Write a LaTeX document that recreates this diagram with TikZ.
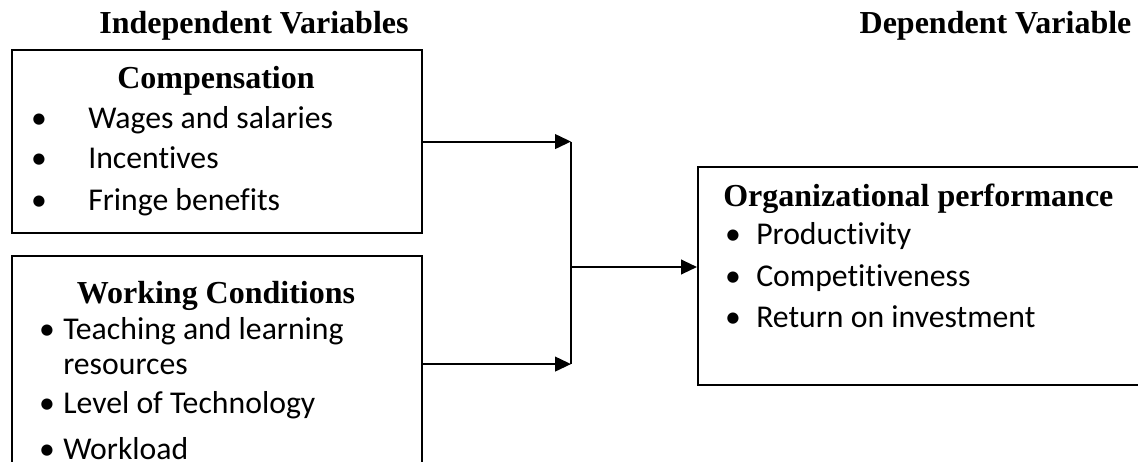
\documentclass[tikz,border=0pt]{standalone}
\usepackage{fontspec}
\setmainfont{Liberation Serif}
\newfontfamily\bodyfont{Carlito}[Ligatures=NoCommon]
\usetikzlibrary{arrows.meta}

\begin{document}
\begin{tikzpicture}[x=0.75pt, y=0.75pt,
    box/.style={draw, line width=1.6pt, inner sep=0pt, anchor=north west},
    head/.style={font=\fontsize{24}{28}\selectfont\bfseries, inner sep=0pt, anchor=base},
    item/.style={font=\bodyfont\fontsize{23.8}{28}\selectfont, inner sep=0pt, anchor=base west},
    dot/.style={font=\bodyfont\fontsize{23.8}{28}\selectfont, inner sep=0pt, anchor=base},
    link/.style={line width=1.6pt, -{Triangle[length=12pt, width=11pt]}},
]
\useasboundingbox (0,0) rectangle (1138,-461);
\clip (0,0) rectangle (1138,-461);

% === Headings ===
\node[head] (indep) at (254,-33) {Independent Variables};
\node[head] (dep) at (995.5,-33) {Dependent Variable};

% === Boxes ===
\node[box, minimum width=410*0.75pt, minimum height=183*0.75pt] (comp) at (11,-49) {};
\node[box, minimum width=410*0.75pt, minimum height=216*0.75pt] (work) at (11,-255) {};
\node[box, minimum width=460*0.75pt, minimum height=218*0.75pt] (perf) at (697,-166) {};

% === Compensation ===
\node[head] (compt) at (216,-88) {Compensation};
\node[dot]  (c1d) at (39,-128) {•};
\node[item] (c1)  at (88,-128) {Wages and salaries};
\node[dot]  (c2d) at (39,-168) {•};
\node[item] (c2)  at (88,-168) {Incentives};
\node[dot]  (c3d) at (39,-210) {•};
\node[item] (c3)  at (88,-210) {Fringe benefits};

% === Working conditions ===
\node[head] (workt) at (216,-303) {Working Conditions};
\node[dot]  (w1d) at (47,-339) {•};
\node[item] (w1)  at (63,-339) {Teaching and learning};
\node[item] (w1b) at (63,-374) {resources};
\node[dot]  (w2d) at (47,-413) {•};
\node[item] (w2)  at (63,-413) {Level of Technology};
\node[dot]  (w3d) at (47,-459) {•};
\node[item] (w3)  at (63,-459) {Workload};

% === Organizational performance ===
\node[head, anchor=base west] (perft) at (723,-206) {Organizational performance};
\node[dot]  (p1d) at (733,-244) {•};
\node[item] (p1)  at (756,-244) {Productivity};
\node[dot]  (p2d) at (733,-286) {•};
\node[item] (p2)  at (756,-286) {Competitiveness};
\node[dot]  (p3d) at (733,-327) {•};
\node[item] (p3)  at (756,-327) {Return on investment};

% === Connectors ===
\coordinate (jx) at (571,0);
\coordinate (jtop) at (comp.east -| jx);
\coordinate (jbot) at (work.east -| jx);
\coordinate (jmid) at (571,-267);
\draw[link] (comp.east) -- (jtop);
\draw[link] (work.east) -- (jbot);
\draw[line width=1.6pt] (jtop) -- (jbot);
\draw[link] (jmid) -- (jmid -| perf.west);
\end{tikzpicture}
\end{document}
